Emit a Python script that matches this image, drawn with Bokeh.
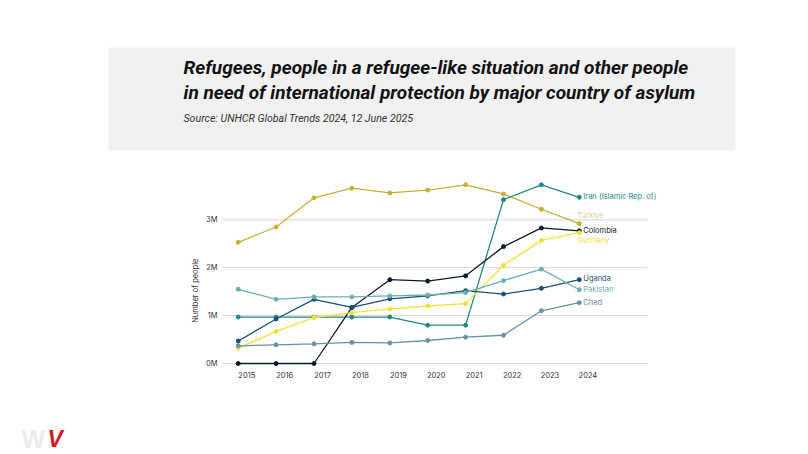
import math
from bokeh.plotting import figure
from bokeh.models import Range1d, FixedTicker, CustomJSTickFormatter
from bokeh.layouts import column, row
from bokeh.core.properties import value
from bokeh.embed import file_html
from bokeh.resources import INLINE

# ---------------- data ----------------
years = [2015, 2016, 2017, 2018, 2019, 2020, 2021, 2022, 2023, 2024]
turkiye   = [2.53, 2.85, 3.46, 3.66, 3.56, 3.62, 3.73, 3.54, 3.22, 2.92]
iran      = [0.97, 0.97, 0.97, 0.97, 0.97, 0.80, 0.80, 3.42, 3.73, 3.47]
colombia  = [0.00, 0.00, 0.00, 1.17, 1.75, 1.72, 1.83, 2.44, 2.83, 2.77]
germany   = [0.32, 0.67, 0.96, 1.06, 1.14, 1.20, 1.25, 2.05, 2.57, 2.73]
uganda    = [0.47, 0.93, 1.34, 1.17, 1.35, 1.41, 1.52, 1.45, 1.57, 1.75]
pakistan  = [1.55, 1.34, 1.39, 1.39, 1.41, 1.43, 1.48, 1.73, 1.97, 1.54]
chad      = [0.37, 0.39, 0.41, 0.44, 0.43, 0.48, 0.55, 0.59, 1.10, 1.27]

series_names = ["Türkiye", "Iran (Islamic Rep. of)", "Colombia", "Germany",
                "Uganda", "Pakistan", "Chad"]
series_values = [turkiye, iran, colombia, germany, uganda, pakistan, chad]
y_ticks = [0, 1, 2, 3]
y_tick_labels = ["0M", "1M", "2M", "3M"]

title_lines = ["Refugees, people in a refugee-like situation and other people",
               "in need of international  protection by major country of asylum"]
source_text = "Source: UNHCR Global Trends 2024, 12 June 2025"
y_axis_title = "Number of people"

# ---------------- styles ----------------
line_colors  = ["#c1b236", "#1f8a80", "#0d1b2a", "#f0e23c", "#1a4f78", "#6ab0b0", "#6890a8"]
label_colors = ["#d8d09c", "#1f8a80", "#0d1b2a", "#ece048", "#1a4f78", "#6ab0b0", "#6890a8"]
label_dx = [-2, 4, 4, -2, 4, 4, 4]
label_dy = [-8, -1, 0, 8, -1, 0, 0]

W = 808
FONT = "Inter"
TITLE_FONT = "Roboto"


def blank(fig):
    fig.axis.visible = False
    fig.grid.visible = False
    return fig


# ---------------- header ----------------
hdr_h = 160
hdr = blank(figure(width=W, height=hdr_h, output_backend="svg", toolbar_location=None,
                   x_range=Range1d(0, W), y_range=Range1d(hdr_h, 0),
                   min_border=0, outline_line_color=None))
hdr.quad(left=[108], right=[735], top=[47], bottom=[150],
         fill_color="#f1f1f1", line_color=None)
hdr.text(x=[183, 183], y=[67, 92], text=title_lines,
         text_font=value(TITLE_FONT), text_font_style="bold italic",
         text_font_size="19px", text_color="#111111",
         text_baseline="middle", text_align="left")
hdr.text(x=[183], y=[118], text=[source_text],
         text_font=value(TITLE_FONT), text_font_style="italic", text_font_size="10.6px",
         text_color="#333333", text_baseline="middle", text_align="left")

# ---------------- chart ----------------
px_per_year = 37.9
px_per_m = 47.9
x0 = 2015 - 15.7 / px_per_year
frame_w = 490
frame_h = 190
y0 = -3 / px_per_m
ch_h = 232
b_top, b_bot = 16, 26

p = figure(width=608, height=ch_h, output_backend="svg", toolbar_location=None,
           x_range=Range1d(x0, x0 + frame_w / px_per_year),
           y_range=Range1d(y0, y0 + frame_h / px_per_m),
           min_border_left=22, min_border_right=96, min_border_top=b_top,
           min_border_bottom=b_bot, outline_line_color=None)
p.xgrid.visible = False
p.ygrid.visible = False

grid_x1 = x0 + 425 / px_per_year
p.segment(x0=[x0] * len(y_ticks), x1=[grid_x1] * len(y_ticks), y0=y_ticks, y1=y_ticks,
          line_color="#d4d4d4", line_width=1)

for name, vals, lc in zip(series_names, series_values, line_colors):
    p.line(years, vals, line_color=lc, line_width=1.3)
    p.scatter(years, vals, size=4, fill_color=lc, line_color=lc)

for name, vals, tc, dx, dy in zip(series_names, series_values, label_colors, label_dx, label_dy):
    p.text(x=[years[-1]], y=[vals[-1]], text=[name], x_offset=dx, y_offset=dy,
           text_font=value(FONT), text_font_size="7.5px", text_color=tc,
           text_baseline="middle", text_align="left")

p.yaxis.ticker = FixedTicker(ticks=y_ticks)
p.yaxis.major_label_overrides = {t: l for t, l in zip(y_ticks, y_tick_labels)}
p.yaxis.axis_line_color = None
p.yaxis.major_tick_line_color = None
p.yaxis.minor_tick_line_color = None
p.yaxis.major_tick_out = 0
p.yaxis.major_tick_in = 0
p.yaxis.major_label_standoff = 5
p.yaxis.major_label_text_font = FONT
p.yaxis.major_label_text_font_size = "7.5px"
p.yaxis.major_label_text_color = "#333333"

shift = 0.227
p.xaxis.ticker = FixedTicker(ticks=[y + shift for y in years])
p.xaxis.formatter = CustomJSTickFormatter(code="return Math.round(tick - 0.227).toFixed(0);")
p.xaxis.axis_line_color = None
p.xaxis.major_tick_line_color = None
p.xaxis.minor_tick_line_color = None
p.xaxis.major_tick_out = 0
p.xaxis.major_tick_in = 0
p.xaxis.major_label_standoff = 5
p.xaxis.major_label_text_font = FONT
p.xaxis.major_label_text_font_size = "7.5px"
p.xaxis.major_label_text_color = "#333333"

# y-axis title strip, sharing the chart's y range
yfig = blank(figure(width=200, height=ch_h, output_backend="svg", toolbar_location=None,
                    x_range=Range1d(0, 200), y_range=p.y_range,
                    min_border_left=0, min_border_right=0, min_border_top=b_top,
                    min_border_bottom=b_bot, outline_line_color=None))
yfig.text(x=[195], y=[1.52], text=[y_axis_title], angle=math.pi / 2,
          text_align="center", text_baseline="middle",
          text_font=value(FONT), text_font_size="7.5px", text_color="#333333")

# ---------------- footer (logo) ----------------
ft_h = 62
ft = blank(figure(width=W, height=ft_h, output_backend="svg", toolbar_location=None,
                  x_range=Range1d(0, W), y_range=Range1d(ft_h, 0),
                  min_border=0, outline_line_color=None))
ft.text(x=[21], y=[46], text=["W"], text_font=value("Liberation Sans"),
        text_font_style="bold", text_font_size="25px", text_color="#ececec",
        text_baseline="middle", text_align="left")
ft.text(x=[47], y=[46], text=["V"], text_font=value("Liberation Sans"),
        text_font_style="bold italic", text_font_size="23px", text_color="#e3121b",
        text_baseline="middle", text_align="left")

layout = column(row(hdr), row(yfig, p), row(ft))
open("out.html", "w").write(file_html(layout, INLINE))
